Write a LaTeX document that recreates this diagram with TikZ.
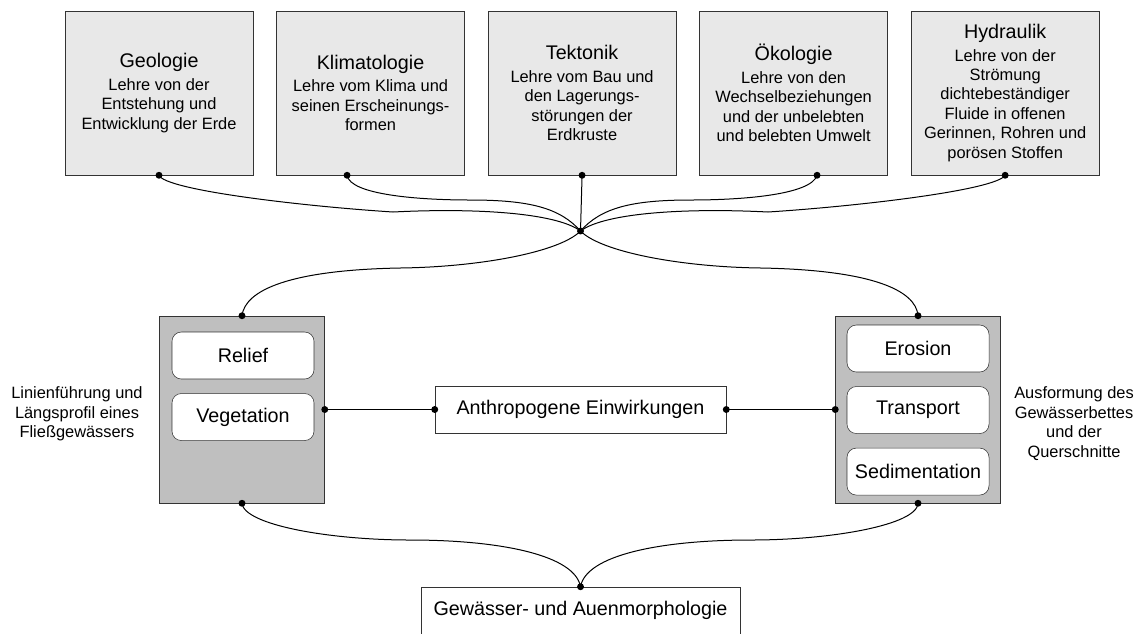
\documentclass[tikz,border=0pt]{standalone}
\usepackage{fontspec}
\setmainfont{Liberation Sans}
\usepackage{tikz}
\usetikzlibrary{positioning}

\newcommand{\titel}[1]{{\fontsize{14.8}{17}\selectfont #1}}

\begin{document}
\begin{tikzpicture}[
    x=0.75pt, y=-0.75pt,
    fach/.style={draw=black!80, fill=black!9, minimum width=141pt, minimum height=123pt, inner sep=0pt, align=center, font=\fontsize{12.3}{14.6}\selectfont},
    block/.style={draw=black!80, fill=black!25, minimum width=123.75pt, minimum height=140.25pt, inner sep=0pt},
    teil/.style={draw=black!80, fill=white, rounded corners=7pt, minimum width=106.5pt, minimum height=35.25pt, inner sep=0pt, font=\fontsize{14.8}{17}\selectfont},
    kasten/.style={draw=black!80, fill=white, minimum height=35.25pt, inner sep=0pt, font=\fontsize{14.8}{17}\selectfont},
    notiz/.style={align=center, font=\fontsize{12.3}{14.6}\selectfont},
    link/.style={line width=0.75pt},
    node distance=17.25pt
]
\useasboundingbox (0,0) rectangle (1137,633);

% Fachgebiete
\node[fach] (geo) at (159,93) {\titel{Geologie}\\[2.3pt] Lehre von der\\ Entstehung und\\ Entwicklung der Erde};
\node[fach, right=of geo] (klima) {\titel{Klimatologie}\\[2.3pt] Lehre vom Klima und\\ seinen Erscheinungs-\\ formen};
\node[fach, right=of klima] (tekto) {\titel{Tektonik}\\[2.3pt] Lehre vom Bau und\\ den Lagerungs-\\ störungen der\\ Erdkruste};
\node[fach, right=of tekto] (oeko) {\titel{Ökologie}\\[2.3pt] Lehre von den\\ Wechselbeziehungen\\ und der unbelebten\\ und belebten Umwelt};
\node[fach, right=of oeko] (hydro) {\titel{Hydraulik}\\[2.3pt] Lehre von der\\ Strömung\\ dichtebeständiger\\ Fluide in offenen\\ Gerinnen, Rohren und\\ porösen Stoffen};

\coordinate (klimaP) at ([xshift=-17.6pt]klima.south);
\coordinate (oekoP) at ([xshift=17.6pt]oeko.south);
\coordinate (hub) at (580.5,231);

% Laengs- und Querprofil
\node[block] (links) at (242,409.5) {};
\node[block] (rechts) at (918,409.5) {};
\node[teil] (relief) at (243,355.5) {Relief};
\node[teil, below=10.5pt of relief] (veg) {Vegetation};
\node[teil] (ero) at (918,348.5) {Erosion};
\node[teil, below=10.5pt of ero] (trans) {Transport};
\node[teil, below=10.5pt of trans] (sedi) {Sedimentation};

\node[kasten, minimum width=218.25pt] (anthro) at (580.5,409.5) {Anthropogene Einwirkungen};
\node[kasten, minimum width=239.25pt] (morph) at (580.5,610.5) {Gewässer- und Auenmorphologie};

\node[notiz] (laengs) at (77,414) {Linienführung und\\ Längsprofil eines\\ Fließgewässers};
\node[notiz] (quer) at (1074,423.5) {Ausformung des\\ Gewässerbettes\\ und der\\ Querschnitte};

% Verbindungen
\draw[link] (geo.south) .. controls (165,190) and (300,206) .. (393,212) .. controls (470,208) and (555,212) .. (hub);
\draw[link] (klimaP) .. controls (350,195) and (420,200) .. (470,200) .. controls (530,200) and (560,208) .. (hub);
\draw[link] (tekto.south) -- (hub);
\draw[link] (oekoP) .. controls (811,195) and (741,200) .. (691,200) .. controls (631,200) and (601,208) .. (hub);
\draw[link] (hydro.south) .. controls (996,190) and (861,206) .. (768,212) .. controls (691,208) and (606,212) .. (hub);

\draw[link] (hub) .. controls (560,252) and (480,267) .. (400,268) .. controls (290,270) and (245,290) .. (links.north);
\draw[link] (hub) .. controls (601,252) and (681,267) .. (761,268) .. controls (871,270) and (916,290) .. (rechts.north);

\draw[link] (links.east) -- (anthro.west);
\draw[link] (anthro.east) -- (rechts.west);

\draw[link] (links.south) .. controls (244,525) and (330,540) .. (410,540) .. controls (500,540) and (575,555) .. (morph.north);
\draw[link] (rechts.south) .. controls (917,525) and (831,540) .. (751,540) .. controls (661,540) and (586,555) .. (morph.north);

\foreach \p in {geo.south, klimaP, tekto.south, oekoP, hydro.south, hub, links.north, rechts.north, links.east, anthro.west, anthro.east, rechts.west, links.south, rechts.south, morph.north}
    \fill (\p) circle[radius=2.6pt];
\end{tikzpicture}
\end{document}
